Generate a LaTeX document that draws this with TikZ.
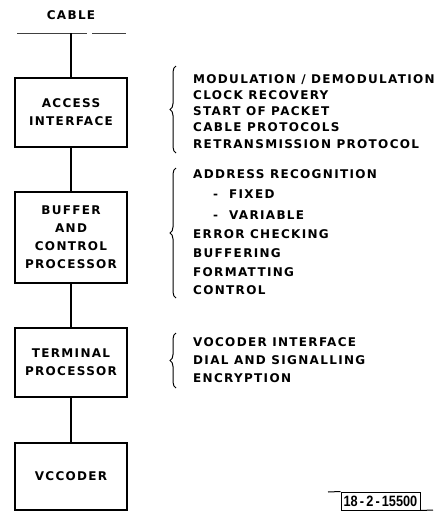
\documentclass[tikz,border=0pt]{standalone}
\usepackage{fontspec}
\setmainfont{DejaVu Sans}
\newfontfamily\labfont{DejaVu Sans}[LetterSpace=11]
\newfontfamily\stampfont{Liberation Sans}
\usetikzlibrary{decorations.pathreplacing}
\begin{document}
\begin{tikzpicture}[x=1pt,y=-1pt,
  lab/.style={font=\labfont\bfseries\fontsize{12}{18}\selectfont, inner sep=0pt, text height=8.7pt, text depth=0pt},
  item/.style={lab, anchor=west},
  blk/.style={draw, line width=1.2pt, minimum width=112pt, align=center, inner sep=0pt,
    font=\labfont\bfseries\fontsize{12}{18}\selectfont},
  conn/.style={line width=2.2pt},
  brc/.style={decorate, decoration={brace, amplitude=6pt}, line width=1pt}
]
\useasboundingbox (0,0) rectangle (437,512);

% cable
\node[lab] (cable) at (71,15) {CABLE};
\coordinate (cl1) at (17,33);
\coordinate (cl2) at (87,33);
\coordinate (cr1) at (92,33);
\coordinate (cr2) at (126,33);
\coordinate (tap) at (71,33);
\draw[line width=1pt, black!75] (cl1) -- (cl2);
\draw[line width=1pt, black!75] (cr1) -- (cr2);

% blocks
\node[blk, minimum height=69pt] (access) at (71,112.5) {ACCESS\\INTERFACE};
\node[blk, minimum height=91pt] (buffer) at (71,237.5) {BUFFER\\AND\\CONTROL\\PROCESSOR};
\node[blk, minimum height=69pt] (term) at (71,362.5) {TERMINAL\\PROCESSOR};
\node[blk, minimum height=67pt] (voc) at (71,476.5) {VCCODER};

\draw[conn] (tap) -- (access.north);
\draw[conn] (access.south) -- (buffer.north);
\draw[conn] (buffer.south) -- (term.north);
\draw[conn] (term.south) -- (voc.north);

% braces
\coordinate (b1t) at (176,66);
\coordinate (b1b) at (176,153);
\coordinate (b2t) at (176,168);
\coordinate (b2b) at (176,298);
\coordinate (b3t) at (176,333);
\coordinate (b3b) at (176,388);
\draw[brc] (b1b) -- (b1t);
\draw[brc] (b2b) -- (b2t);
\draw[brc] (b3b) -- (b3t);

% group 1
\node[item] (g1a) at (193,79) {MODULATION / DEMODULATION};
\node[item] (g1b) at (193,95) {CLOCK RECOVERY};
\node[item] (g1c) at (193,111) {START OF PACKET};
\node[item] (g1d) at (193,127) {CABLE PROTOCOLS};
\node[item] (g1e) at (193,144) {RETRANSMISSION PROTOCOL};

% group 2
\node[item] (g2a) at (193,174) {ADDRESS RECOGNITION};
\node[item] (g2b) at (213,194) {-\ \ FIXED};
\node[item] (g2c) at (213,215) {-\ \ VARIABLE};
\node[item] (g2d) at (193,234) {ERROR CHECKING};
\node[item] (g2e) at (193,253) {BUFFERING};
\node[item] (g2f) at (193,272) {FORMATTING};
\node[item] (g2g) at (193,290) {CONTROL};

% group 3
\node[item] (g3a) at (193,342) {VOCODER INTERFACE};
\node[item] (g3b) at (193,360) {DIAL AND SIGNALLING};
\node[item] (g3c) at (193,378) {ENCRYPTION};

% stamp
\node[draw, line width=1pt, minimum width=79pt, minimum height=18pt, inner sep=0pt,
  font=\stampfont\bfseries\fontsize{15}{15}\selectfont] (stamp) at (380.5,501) {\scalebox{0.85}[1]{18\,-\,2\,-\,15500}};
\coordinate (st1) at (328,492);
\coordinate (st2) at (433,510);
\draw[line width=1pt] (st1) -- (stamp.north west);
\draw[line width=1pt] (stamp.south east) -- (st2);
\end{tikzpicture}
\end{document}
